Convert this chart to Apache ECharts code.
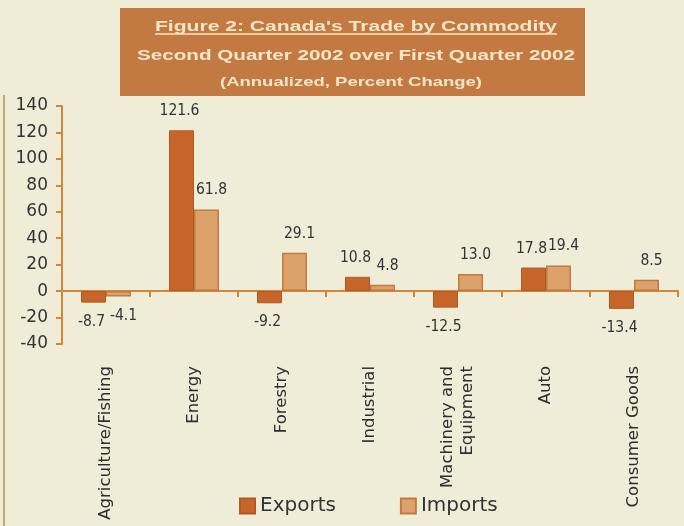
<!DOCTYPE html>
<html>
<head>
<meta charset="utf-8">
<script src="https://cdn.jsdelivr.net/npm/echarts@6/dist/echarts.min.js"></script>
<style>
html,body{margin:0;padding:0;background:#efedd7;}
#c{width:684px;height:526px;}
</style>
</head>
<body>
<div id="c"></div>
<script>
var categories = ['Agriculture/Fishing', 'Energy', 'Forestry', 'Industrial', 'Machinery and\nEquipment', 'Auto', 'Consumer Goods'];
var exportsData = [-8.7, 121.6, -9.2, 10.8, -12.5, 17.8, -13.4];
var importsData = [-4.1, 61.8, 29.1, 4.8, 13.0, 19.4, 8.5];
var yTicks = { min: -40, max: 140, interval: 20 };
var titleLines = [
  'Figure 2: Canada\'s Trade by Commodity',
  'Second Quarter 2002 over First Quarter 2002',
  '(Annualized, Percent Change)'
];

var labelFont = 'Tahoma, "DejaVu Sans", sans-serif';
var narrowFont = '"DejaVu Sans Condensed", "Liberation Sans", sans-serif';
var cream = '#f6e6c8';

function measure(text, font) {
  var c = document.createElement('canvas').getContext('2d');
  c.font = font;
  return c.measureText(text).width;
}
var tFonts = ['bold 14px "Liberation Sans"', 'bold 14px "Liberation Sans"', 'bold 13px "Liberation Sans"'];
var tWidths = [402, 438, 262];
var tX = [356, 356, 351];
var tY = [27, 56, 82];

function build(values) {
  return values.map(function (v) {
    return { value: v, label: { position: v < 0 ? 'bottom' : 'top' } };
  });
}

var graphics = [
  { type: 'rect', shape: { x: 120, y: 8, width: 465, height: 88 }, style: { fill: '#c27a42' }, z: 1 },
  { type: 'line', shape: { x1: 4, y1: 95, x2: 4, y2: 526 }, style: { stroke: '#c98c48', lineWidth: 1.5 } }
];
titleLines.forEach(function (t, i) {
  var w = measure(t, tFonts[i]);
  graphics.push({
    type: 'text', x: tX[i], y: tY[i], scaleX: tWidths[i] / w, z: 2,
    style: { text: t, font: tFonts[i], fill: cream, align: 'center', verticalAlign: 'middle' }
  });
});
graphics.push({ type: 'line', z: 2, shape: { x1: tX[0] - 201, y1: 34, x2: tX[0] + 201, y2: 34 }, style: { stroke: cream, lineWidth: 1.5 } });

var axisColor = '#d08838';
var fmt = function (p) { return p.value.toFixed(1); };
var chart = echarts.init(document.getElementById('c'));
chart.setOption({
  backgroundColor: '#efedd7',
  animation: false,
  graphic: graphics,
  grid: { left: 62, right: 6, top: 106, bottom: 182 },
  legend: {
    data: ['Exports', 'Imports'],
    left: 234, top: 491,
    itemWidth: 15, itemHeight: 15, itemGap: 64,
    icon: 'rect',
    textStyle: { fontSize: 20, color: '#333', fontFamily: labelFont }
  },
  xAxis: [
    {
      type: 'category', data: categories, position: 'bottom',
      axisLine: { onZero: true, lineStyle: { color: axisColor, width: 2 } },
      axisTick: { show: true, interval: 0, length: 6, lineStyle: { color: axisColor, width: 2 } },
      axisLabel: { show: false }
    },
    {
      type: 'category', data: categories, position: 'bottom',
      axisLine: { show: false, onZero: false },
      axisTick: { show: false },
      axisLabel: { interval: 0, rotate: 90, margin: 22, fontSize: 16.5, color: '#2e2e2e', fontFamily: labelFont, lineHeight: 20 }
    }
  ],
  yAxis: {
    type: 'value', min: yTicks.min, max: yTicks.max, interval: yTicks.interval,
    splitLine: { show: false },
    axisLine: { show: true, lineStyle: { color: axisColor, width: 2 } },
    axisTick: { show: true, length: 6, lineStyle: { color: axisColor, width: 2 } },
    axisLabel: { fontSize: 17, color: '#333', margin: 14, fontFamily: labelFont }
  },
  series: [
    {
      name: 'Exports', type: 'bar', xAxisIndex: 0, data: build(exportsData),
      barWidth: 25, barGap: '0%',
      itemStyle: { color: '#c6662a', borderColor: '#b25822', borderWidth: 1 },
      label: { show: true, fontSize: 15.5, color: '#333', fontFamily: narrowFont, distance: 11, offset: [-2, 0], formatter: fmt }
    },
    {
      name: 'Imports', type: 'bar', xAxisIndex: 0, data: build(importsData),
      barWidth: 25, barGap: '0%',
      itemStyle: { color: '#dca26c', borderColor: '#c27a3e', borderWidth: 1.5 },
      label: { show: true, fontSize: 15.5, color: '#333', fontFamily: narrowFont, distance: 11, offset: [5, 0], formatter: fmt }
    }
  ]
});
</script>
</body>
</html>
